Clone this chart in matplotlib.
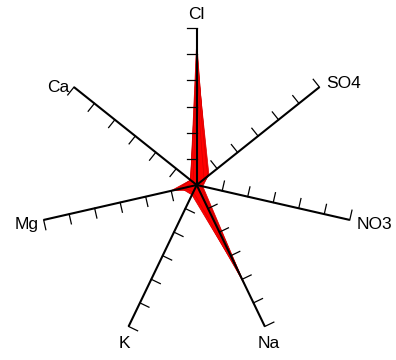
import numpy as np
from matplotlib import pyplot as plt

# ions, clockwise from top
ions = ["Cl", "SO4", "NO3", "Na", "K", "Mg", "Ca"]

# scaled concentrations (0..1 of axis length), one list per sample
sample1 = [0.92, 0.08, 0.03, 0.72, 0.03, 0.17, 0.05]
sample2 = [0.87, 0.09, 0.04, 0.70, 0.06, 0.07, 0.04]
sample3 = [0.81, 0.10, 0.03, 0.67, 0.04, 0.14, 0.05]
sample4 = [0.76, 0.07, 0.02, 0.64, 0.07, 0.10, 0.04]
sample5 = [0.70, 0.09, 0.03, 0.60, 0.03, 0.12, 0.05]
sample6 = [0.64, 0.06, 0.02, 0.56, 0.05, 0.08, 0.03]
samples = [sample1, sample2, sample3, sample4, sample5, sample6]

n_ticks = 6
scale = 157.0  # pixels per axis length

angles = np.pi / 2 - np.arange(len(ions)) * 2 * np.pi / len(ions)

fig = plt.figure(figsize=(3.96, 3.6), dpi=100)
ax = fig.add_axes([0, 0, 1, 1])
ax.set_xlim(-196.7 / scale, (396 - 196.7) / scale)
ax.set_ylim(-175 / scale, 185 / scale)
ax.axis("off")

# samples
for s in samples:
    r = np.array(s)
    x = r * np.cos(angles)
    y = r * np.sin(angles)
    ax.fill(x, y, facecolor="#ff0000", edgecolor="#d40000", linewidth=0.5, zorder=1)

# axes with ticks
tick_len = 10 / scale
for a, name in zip(angles, ions):
    dx, dy = np.cos(a), np.sin(a)
    ax.plot([0, dx], [0, dy], color="black", linewidth=1.5, zorder=3,
            solid_capstyle="butt")
    for k in range(1, n_ticks + 1):
        t = k / n_ticks
        px, py = t * dx, t * dy
        ax.plot([px, px - dy * tick_len], [py, py + dx * tick_len],
                color="black", linewidth=0.9, zorder=3)

    if abs(dx) > 0.6:
        ha = "left" if dx > 0 else "right"
        va = "center"
        if dx > 0 and dy > 0.3:
            oy = 4
        elif dy < -0.1:
            oy = -5
        else:
            oy = 0
        off = (7 if dx > 0 else -5, oy)
    else:
        ha = "center"
        va = "bottom" if dy > 0 else "top"
        off = (10 * dx, 6 if dy > 0 else -10)
    ax.annotate(name, (dx, dy), xytext=off, textcoords="offset pixels",
                ha=ha, va=va, fontsize=12.5, family="Liberation Sans")

plt.savefig("out.png", dpi=100)
